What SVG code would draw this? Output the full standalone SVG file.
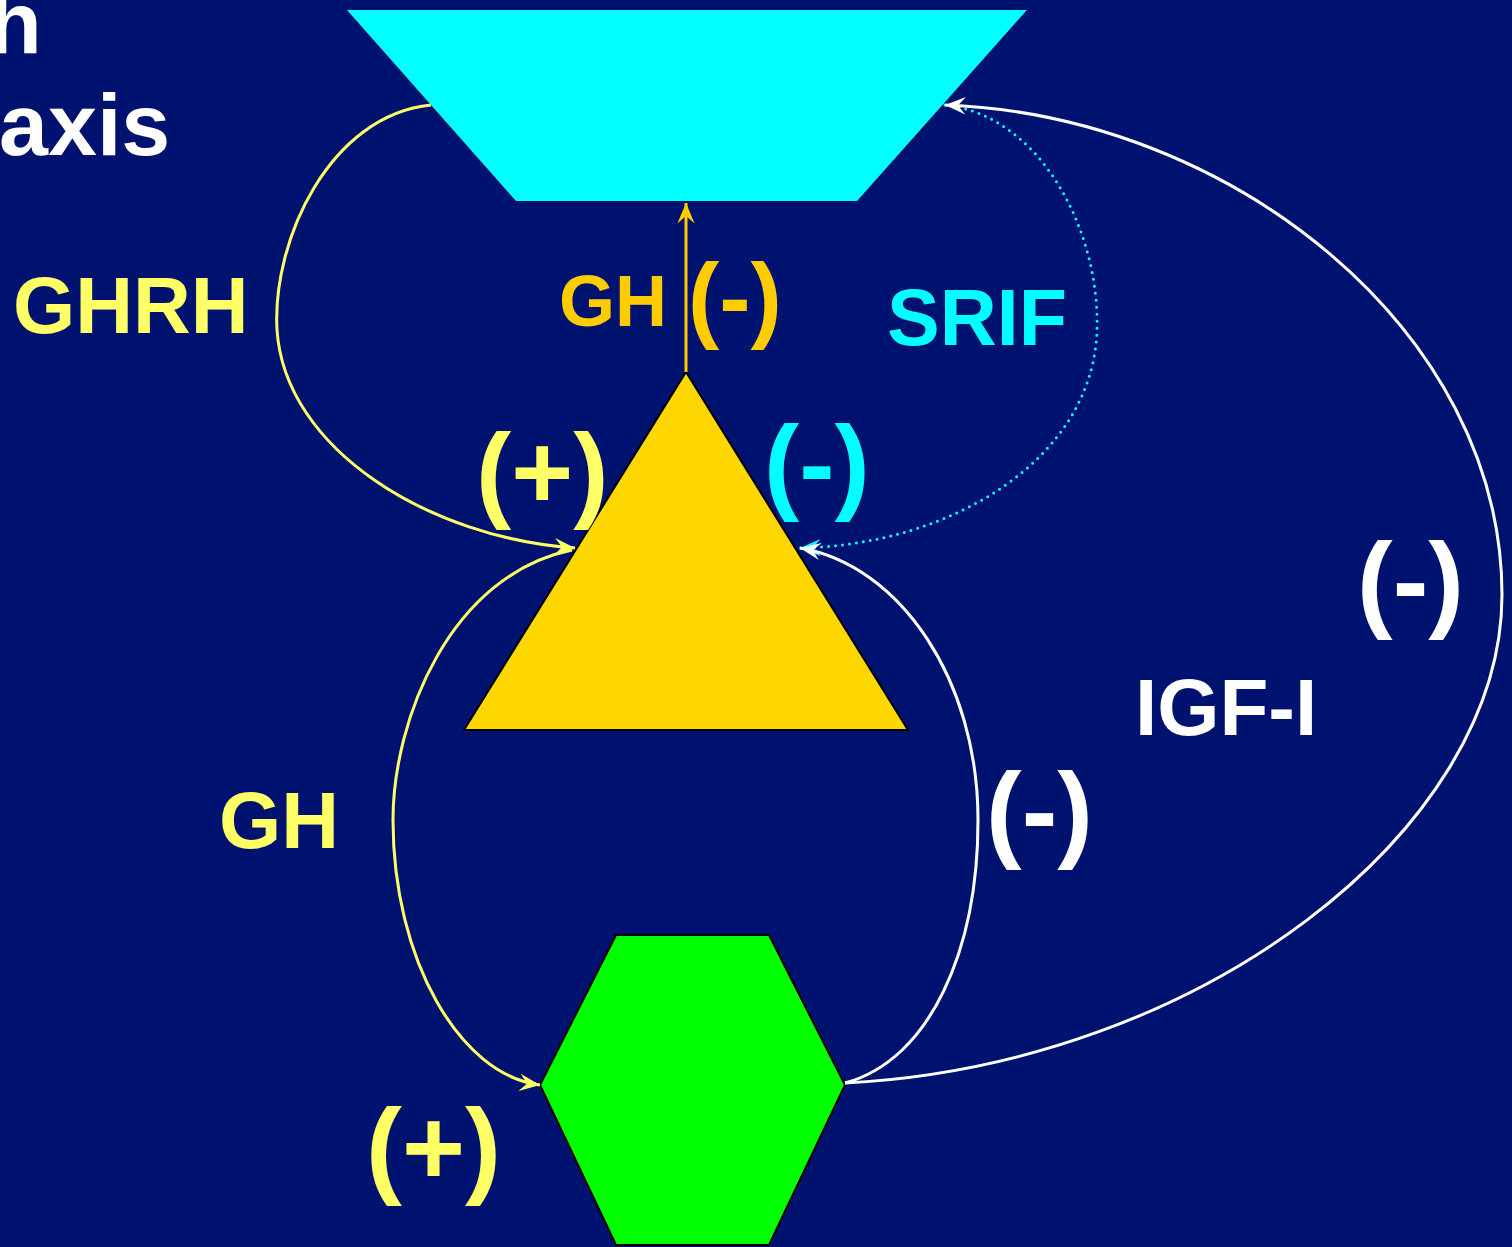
<svg xmlns="http://www.w3.org/2000/svg" width="1512" height="1247" viewBox="0 0 1512 1247">
<defs>
<style>
.t{font-family:"Liberation Sans",Arial,sans-serif;font-weight:bold}
.c{fill:none;stroke-width:3}
</style>
<marker id="aY" markerUnits="userSpaceOnUse" markerWidth="26" markerHeight="26" viewBox="-22 -11 24 22" refX="0" refY="0" orient="auto"><path d="M0,0 L-19,-8 L-12,0 L-19,8 Z" fill="#FFFF66"/></marker>
<marker id="aO" markerUnits="userSpaceOnUse" markerWidth="26" markerHeight="26" viewBox="-22 -11 24 22" refX="0" refY="0" orient="auto"><path d="M0,0 L-19,-8 L-12,0 L-19,8 Z" fill="#FFCC00"/></marker>
<marker id="aC" markerUnits="userSpaceOnUse" markerWidth="26" markerHeight="26" viewBox="-22 -11 24 22" refX="0" refY="0" orient="auto"><path d="M0,0 L-19,-8 L-12,0 L-19,8 Z" fill="#00FFFF"/></marker>
<marker id="aW" markerUnits="userSpaceOnUse" markerWidth="26" markerHeight="26" viewBox="-22 -11 24 22" refX="0" refY="0" orient="auto"><path d="M0,0 L-19,-8 L-12,0 L-19,8 Z" fill="#FFFFFF"/></marker>
</defs>
<rect width="1512" height="1247" fill="#001270"/>
<g id="title" class="t" fill="#FFFFFF" font-size="88">
<text x="-12" y="53">h</text>
<text x="-1" y="155">axis</text>
</g>
<g id="hypothalamus"><polygon points="347,10 1027,10 857,201 516,201" fill="#00FFFF"/></g>
<g id="pituitary"><polygon points="686,372 908,730 464,730" fill="#FFD700" stroke="#000000" stroke-width="2"/></g>
<g id="liver"><polygon points="616,935 769,935 845,1085 769,1245 616,1245 540,1085" fill="#00FF00" stroke="#000000" stroke-width="2"/></g>
<g id="connectors">
<path class="c" stroke="#FFFF66" d="M431,105 C330,115 272,240 277,330 C285,450 430,538 575,548" marker-end="url(#aY)"/>
<path class="c" stroke="#FFFF66" d="M572,550 C450,575 393,720 393,820 C393,960 460,1075 540,1085" marker-end="url(#aY)"/>
<path class="c" stroke="#FFCC00" d="M686,372 L686,203" marker-end="url(#aO)"/>
<path class="c" stroke="#00FFFF" stroke-dasharray="0 7" stroke-linecap="round" stroke-width="3.5" d="M945,105 C1040,115 1100,230 1097,330 C1093,460 950,545 800,548" marker-end="url(#aC)"/>
<path class="c" stroke="#FFFFFF" d="M845,1083 C930,1060 978,950 978,820 C978,680 900,565 800,548" marker-end="url(#aW)"/>
<path class="c" stroke="#FFFFFF" d="M845,1083 C1200,1065 1502,830 1502,595 C1502,330 1230,115 945,105" marker-end="url(#aW)"/>
</g>
<g id="labels" class="t">
<text x="13" y="333" font-size="80" fill="#FFFF66">GHRH</text>
<text x="559" y="326" font-size="72" fill="#FFCC00">GH</text>
<text x="688" y="330" font-size="94" fill="#FFCC00">(-)</text>
<text x="887" y="345" font-size="79" fill="#00FFFF">SRIF</text>
<text x="476" y="508" font-size="106" fill="#FFFF66">(+)</text>
<text x="764" y="500" font-size="106" fill="#00FFFF">(-)</text>
<text x="1357" y="618" font-size="107" fill="#FFFFFF">(-)</text>
<text x="1135" y="735" font-size="80" fill="#FFFFFF">IGF-I</text>
<text x="219" y="848" font-size="80" fill="#FFFF66">GH</text>
<text x="986" y="848" font-size="107" fill="#FFFFFF">(-)</text>
<text x="366" y="1184" font-size="108" fill="#FFFF66">(+)</text>
</g>
</svg>
